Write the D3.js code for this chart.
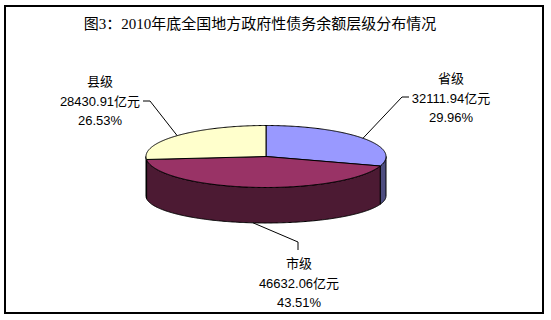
<!DOCTYPE html>
<html>
<head>
<meta charset="utf-8">
<script src="https://cdn.jsdelivr.net/npm/d3@7"></script>
<style>
  html, body { margin: 0; padding: 0; background: #fff; }
  svg { display: block; }
</style>
</head>
<body>
<script>
// Local government debt balance at end of 2010, by administrative level (亿元)
const levels = ["省级", "市级", "县级"];
const amounts = [32111.94, 46632.06, 28430.91];
const amountLabels = ["32111.94亿元", "46632.06亿元", "28430.91亿元"];
const shareLabels = ["29.96%", "43.51%", "26.53%"];
const topColors = ["#9999FF", "#993366", "#FFFFCC"];
const sideColors = ["#4D4D80", "#4C1A33", "#808066"];
const titleText = "图3：2010年底全国地方政府性债务余额层级分布情况";

(function () {
  const W = 551, H = 320;
  const svg = d3.select("body").append("svg").attr("width", W).attr("height", H);

  // frame
  svg.append("rect").attr("x", 5).attr("y", 6).attr("width", 538).attr("height", 307)
    .attr("fill", "#fff").attr("stroke", "#000").attr("stroke-width", 2);

  svg.append("text").attr("x", 260).attr("y", 29).attr("text-anchor", "middle")
    .style("font-family", "'Liberation Serif', 'Noto Sans CJK SC', serif")
    .style("font-size", "15px").attr("fill", "#000").text(titleText);

  // pie geometry: top face and bottom rim as ellipses
  const topE = { cx: 266, cy: 156.5, rx: 120, ry: 31 };
  const botE = { cx: 266, cy: 196, rx: 120, ry: 27 };
  const pt = (e, a) => [e.cx + e.rx * Math.sin(a), e.cy - e.ry * Math.cos(a)];

  const pie = d3.pie().sort(null).value(d => d).startAngle(0).endAngle(2 * Math.PI);
  const arcs = pie(amounts);
  const line = d3.line();

  function sample(e, a0, a1) {
    const n = Math.max(2, Math.ceil(Math.abs(a1 - a0) / 0.01));
    return d3.range(n + 1).map(i => pt(e, a0 + (a1 - a0) * i / n));
  }

  // front side walls (visible between 90° and 270°)
  const g = svg.append("g");
  arcs.forEach((d, i) => {
    const a0 = Math.max(d.startAngle, Math.PI / 2);
    const a1 = Math.min(d.endAngle, 3 * Math.PI / 2);
    if (a1 <= a0) return;
    const pts = sample(topE, a0, a1).concat(sample(botE, a1, a0));
    g.append("path").attr("d", line(pts) + "Z")
      .attr("fill", sideColors[i]).attr("stroke", "#000").attr("stroke-width", 1)
      .attr("stroke-linejoin", "round");
  });

  // top faces
  arcs.forEach((d, i) => {
    const pts = [[topE.cx, topE.cy]].concat(sample(topE, d.startAngle, d.endAngle));
    g.append("path").attr("d", line(pts) + "Z")
      .attr("fill", topColors[i]).attr("stroke", "#000").attr("stroke-width", 1)
      .attr("stroke-linejoin", "round");
  });

  // labels and leader lines
  const labelFont = "'Liberation Sans', 'Noto Sans CJK SC', sans-serif";
  const labelPos = [
    { x: 451, y: 78, elbow: [[402, 97], [409, 97]] },
    { x: 299, y: 263, elbow: [[298, 242], [298, 250]] },
    { x: 100, y: 81, elbow: [[150, 101], [143, 101]] }
  ];
  arcs.forEach((d, i) => {
    const mid = (d.startAngle + d.endAngle) / 2;
    const anchor = (mid > Math.PI / 2 && mid < 3 * Math.PI / 2) ? pt(botE, mid) : pt(topE, mid);
    const p = labelPos[i];
    svg.append("path").attr("d", line([anchor].concat(p.elbow)))
      .attr("fill", "none").attr("stroke", "#000").attr("stroke-width", 1);
    const t = svg.append("text").attr("text-anchor", "middle")
      .style("font-family", labelFont).style("font-size", "13px").attr("fill", "#000");
    [levels[i], amountLabels[i], shareLabels[i]].forEach((s, k) => {
      t.append("tspan").attr("x", p.x).attr("y", p.y + 5 + k * 19.5).text(s);
    });
  });
})();
</script>
</body>
</html>
